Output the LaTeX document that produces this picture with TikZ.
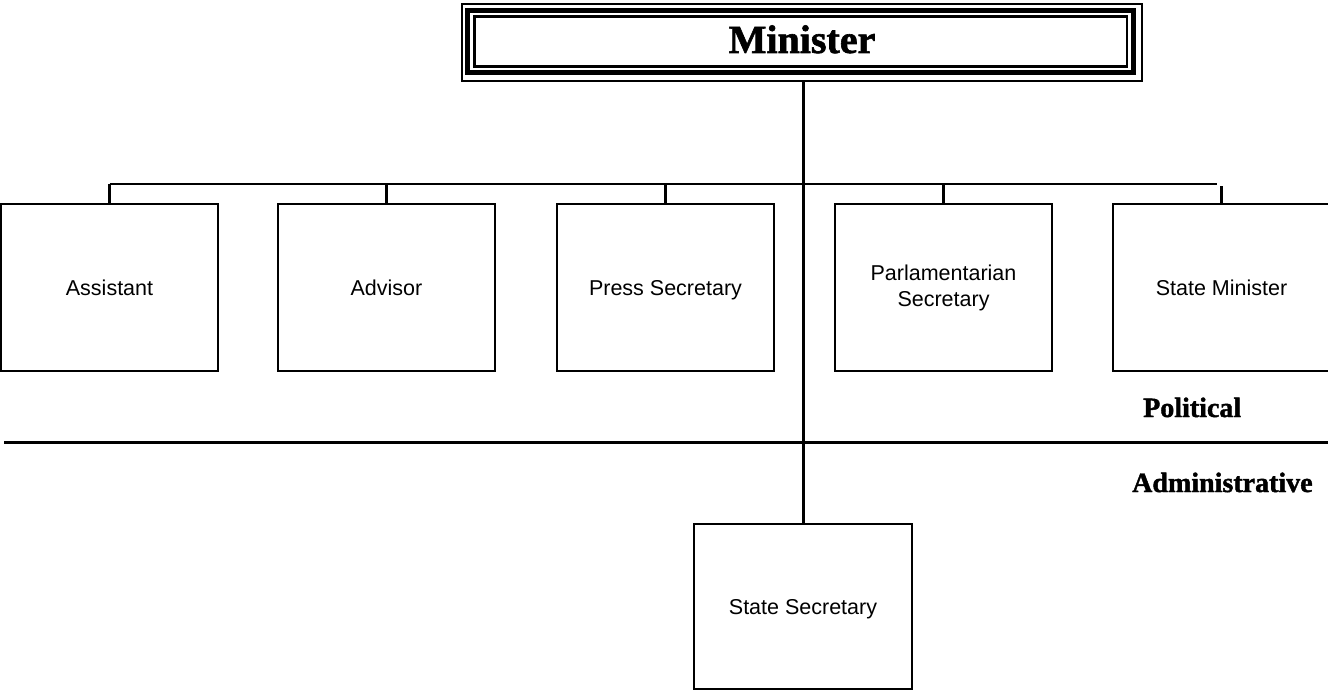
\documentclass[tikz,border=0pt]{standalone}
\usepackage{fontspec}
\setmainfont{Liberation Serif}
\setsansfont{Liberation Sans}
\newfontfamily\heavyfont[FakeBold=1.5]{Liberation Serif Bold}
\usetikzlibrary{calc}
\begin{document}
\begin{tikzpicture}[x=1pt,y=-1pt,
  box/.style={draw,line width=2pt,minimum width=217pt,minimum height=167pt,
    anchor=north west,inner sep=0pt,align=center,
    font=\sffamily\fontsize{21.5}{26}\selectfont},
  one/.style={text height=15.5pt,text depth=0pt},
  link/.style={line width=2.5pt},
  lbl/.style={font=\heavyfont\fontsize{28}{30}\selectfont,anchor=base west,inner sep=0pt}]
\useasboundingbox (0,0) rectangle (1328,690);
% Minister with triple frame
\node[draw,line width=2pt,minimum width=680pt,minimum height=77pt,inner sep=0pt,
      text height=28pt,text depth=7pt,font=\heavyfont\fontsize{40}{42}\selectfont] (minister) at (802,42.5) {Minister};
\draw[line width=5pt] ($(minister.north west)+(6.5,7.5)$) rectangle ($(minister.south east)+(-9.5,-9.5)$);
\draw[line width=2.5pt] ($(minister.north west)+(13.5,13.5)$) rectangle ($(minister.south east)+(-16,-15.5)$);
% political boxes
\node[box,one] (assistant) at (0,203) {Assistant};
\node[box,one] (advisor) at (277,203) {Advisor};
\node[box,one] (press) at (556,203) {Press Secretary};
\node[box] (parl) at (834,203) {Parlamentarian\\Secretary};
\node[box,one] (stmin) at (1112,203) {State Minister};
% administrative box
\node[box,one,minimum width=218pt,minimum height=165pt] (ssec) at (693,523) {State Secretary};
% connectors
\coordinate (busL) at (assistant.north |- 0,184);
\coordinate (busR) at (1217,184);
\draw[link] (busL) -- (busR);
\draw[link] (busL) -- (assistant.north);
\draw[link] (advisor.north |- busL) -- (advisor.north);
\draw[link] (press.north |- busL) -- (press.north);
\draw[link] (parl.north |- busL) -- (parl.north);
\coordinate (smtop) at (stmin.north |- 0,186);
\draw[link] (smtop) -- (stmin.north);
\draw[line width=3pt] (minister.south -| ssec.north) -- (ssec.north);
% divider
\coordinate (divL) at (4,442);
\coordinate (divR) at (1328,442);
\draw[line width=3pt] (divL) -- (divR);
\node[lbl] (political) at (1143,417) {Political};
\node[lbl] (admin) at (1132,492) {Administrative};
\end{tikzpicture}
\end{document}
